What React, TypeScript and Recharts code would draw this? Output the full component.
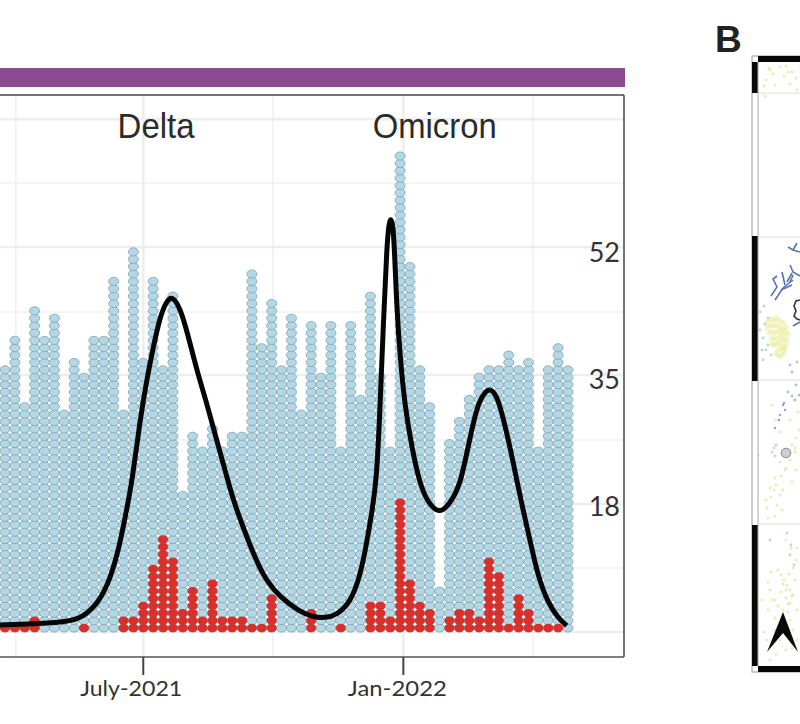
import React from "react";
import {
  ComposedChart,
  ScatterChart,
  Scatter,
  XAxis,
  YAxis,
  ReferenceLine,
  ReferenceDot,
} from "recharts";

// Weekly column heights (dots per week)
const totalCounts = [
  36, 40, 31, 44, 40, 43, 30, 37, 35, 40, 40, 48, 30, 52, 37, 48, 36, 46, 19, 27,
  25, 28, 25, 27, 27, 49, 39, 45, 36, 43, 30, 42, 35, 42, 25, 42, 32, 46, 35, 25,
  65, 50, 36, 31, 6, 26, 29, 32, 35, 36, 36, 38, 36, 37, 25, 36, 39, 36,
];
const redCounts = [
  1, 1, 1, 2, 0, 0, 0, 0, 1, 0, 0, 0, 2, 2, 4, 9, 13, 10, 3, 6,
  2, 7, 2, 2, 2, 1, 1, 5, 0, 0, 0, 3, 0, 0, 1, 0, 0, 4, 4, 2,
  18, 7, 4, 3, 0, 2, 3, 3, 2, 10, 8, 1, 5, 3, 1, 1, 1, 0,
];

// Black trend curve
const curveWeeks = [
  -0.51, 2.87, 6.25, 7.93, 9.45, 10.63, 11.57, 12.25, 12.89, 13.67, 14.35, 15.01,
  15.69, 16.37, 16.98, 17.72, 18.4, 19.41, 20.42, 21.43, 22.55, 23.11, 24.13, 25.48, 26.5,
  27.84, 29.87, 31.21, 32.4, 33.58, 34.93, 35.94, 36.62, 37.13, 37.63, 37.97, 38.31, 38.67,
  38.88, 39.08, 39.26, 39.41, 39.66, 40, 40.5, 41.18, 42.02, 42.83, 44.04, 45.05, 46.07, 47.08, 47.89,
  48.6, 49.1, 49.78, 50.42, 51.13, 51.81, 52.45, 53.15, 53.97, 54.98, 55.99, 56.87,
];
const curveValues = [
  1.41, 1.54, 1.81, 2.49, 4.39, 7.51, 11.98, 16.59, 21.07, 29.2, 34.63, 39.1,
  43.17, 45.4, 46, 44.39, 41.41, 35.98, 31.51, 26.49, 21.07, 18.36, 14.56, 9.95, 7.37,
  5.2, 3.17, 2.49, 2.36, 2.76, 4.39, 7.92, 12.53, 16.59, 21.07, 30.97, 42.36, 53.1,
  55.9, 56.6, 55.7, 53.1, 44.53, 37.75, 30.97, 25.54, 20.39, 17.95, 16.4, 17.95, 20.12, 26.9, 31.51,
  33, 33.5, 32.59, 29.61, 25.54, 21.07, 17, 12.93, 7.92, 4.39, 2.36, 1.31,
];

const yTicks = [18, 35, 52];
const yTickShift = [3, 2, 0];
const xTickWeeks = [14, 40.33];
const xTickLabels = ["July-2021", "Jan-2022"];
const xTickLabelShift = [-12, -6];
const gridMajorY = [70, 52.66, 35.31, 17.81, 0.46];
const gridMinorY = [61.34, 43.85, 26.49, 9.14];
const gridMajorX = [14, 40.33];
const gridMinorX = [1.1, 27.13, 53.46];
const variantLabels = ["Delta", "Omicron"];
const variantWeeks = [15.3, 43.5];

const X_DOMAIN: [number, number] = [-0.506, 62.67];
const Y_DOMAIN: [number, number] = [-2.93, 73.27];

const blueDots = totalCounts.flatMap((n, week) =>
  Array.from({ length: n }, (_, i) => ({ week, row: i + 1 }))
);
const redDots = redCounts.flatMap((n, week) =>
  Array.from({ length: n }, (_, i) => ({ week, row: i + 1 }))
);
const curve = curveWeeks.map((week, i) => ({ week, row: curveValues[i] }));

// Map panel B: river lines and specks, in map coordinates
const riverA = [
  { lon: 775, lat: 300 }, { lon: 783, lat: 288 }, { lon: 793, lat: 280 },
];
const riverB = [
  { lon: 771, lat: 296 }, { lon: 777, lat: 287 }, { lon: 773, lat: 279 }, { lon: 777, lat: 276 },
];
const riverC = [{ lon: 788, lat: 247 }, { lon: 793, lat: 250 }, { lon: 800, lat: 252 }];
const riverC2 = [{ lon: 793, lat: 250 }, { lon: 797, lat: 243 }];
const riverD = [{ lon: 790, lat: 265 }, { lon: 793, lat: 272 }, { lon: 800, lat: 276 }];
const riverE = [{ lon: 785, lat: 285 }, { lon: 782, lat: 272 }];
const riverF = [{ lon: 781, lat: 290 }, { lon: 792, lat: 285 }];
const riverG = [{ lon: 787, lat: 282 }, { lon: 792, lat: 273 }];
const riverH = [{ lon: 790, lat: 282 }, { lon: 793, lat: 275 }];
const outline = [
  { lon: 800, lat: 300 }, { lon: 796, lat: 301 }, { lon: 794, lat: 306 }, { lon: 796, lat: 311 },
  { lon: 794, lat: 316 }, { lon: 797, lat: 319 }, { lon: 800, lat: 320 },
];
const outlineBlue = [{ lon: 793, lat: 326 }, { lon: 800, lat: 322 }];

const blobLon = [
  768, 771, 774, 777, 780, 783, 786, 767, 770, 773, 776, 779, 782, 785, 788, 769, 772, 775, 778,
  781, 784, 787, 771, 774, 777, 780, 783, 786, 774, 777, 780, 783, 778, 781, 784, 776, 779, 772, 782, 785,
];
const blobLat = [
  322, 319, 320, 318, 321, 323, 327, 328, 326, 326, 325, 327, 329, 331, 334, 333, 332, 333, 331,
  333, 336, 340, 339, 338, 339, 337, 340, 344, 345, 344, 343, 347, 350, 349, 352, 354, 356, 344, 355, 348,
];
const yellowLon = [
  770, 773, 766, 769, 764, 765, 792, 796, 786, 790, 784, 775, 780, 788, 797,
  772, 776, 780, 790, 794, 798, 785, 775, 770, 766, 788, 780, 796, 792, 782, 775, 768, 780, 792, 796, 799, 795,
  771, 776, 781, 786, 767, 774, 790, 795, 777, 783,
  786, 791, 796, 789, 795, 778, 783, 770, 775, 786, 792, 797, 775, 768, 788, 783, 793, 780,
  786, 776, 770, 792, 797, 781, 768, 783, 775, 767, 762, 790, 784, 787, 790, 793, 781, 786, 790, 778,
  772, 764, 797, 788, 771, 793,
];
const yellowLat = [
  70, 74, 80, 68, 86, 96, 72, 78, 66, 84, 76, 85, 67, 72, 90,
  405, 420, 432, 420, 400, 412, 470, 478, 488, 500, 452, 495, 470, 482, 510, 516, 518, 462, 445, 438, 430, 452,
  497, 485, 476, 468, 508, 490, 460, 448, 505, 490,
  540, 548, 560, 574, 580, 570, 584, 590, 600, 590, 596, 610, 618, 610, 604, 626, 630, 640,
  650, 654, 660, 648, 640, 575, 582, 610, 630, 640, 600, 620, 580, 585, 590, 595, 592, 598, 603, 606,
  600, 632, 548, 612, 572, 568,
];
const tealLon = [760, 763, 766, 765, 768, 763, 771, 772, 774, 775, 776, 770, 787, 791, 760, 764, 762, 768, 790, 794, 758];
const tealLat = [330, 338, 350, 324, 345, 360, 355, 452, 448, 456, 445, 540, 533, 545, 312, 306, 350, 318, 555, 565, 455];
const blueLon = [795, 792, 788, 796, 792, 790, 797, 799];
const blueLat = [400, 396, 392, 385, 372, 365, 362, 395];
const purpleLon = [783, 785, 780, 775, 779, 784];
const purpleLat = [405, 410, 415, 428, 420, 403];
const MAP_SITE = [{ lon: 786, lat: 453 }];

const blobSpecks = blobLon.map((lon, i) => ({ lon, lat: blobLat[i] }));
const yellowSpecks = yellowLon.map((lon, i) => ({ lon, lat: yellowLat[i] }));
const tealSpecks = tealLon.map((lon, i) => ({ lon, lat: tealLat[i] }));
const blueSpecks = blueLon.map((lon, i) => ({ lon, lat: blueLat[i] }));
const purpleSpecks = purpleLon.map((lon, i) => ({ lon, lat: purpleLat[i] }));

const BlueDot = (p: any) => (
  <ellipse cx={p.cx} cy={p.cy} rx={5} ry={4.1} fill="#b4d7e6" stroke="#7fa2ae" strokeWidth={0.8} />
);
const RedDot = (p: any) => (
  <ellipse cx={p.cx} cy={p.cy} rx={5} ry={4.2} fill="#d8302b" stroke="none" />
);
const NoDot = () => null;

const XTick = (p: any) => {
  const i = xTickWeeks.indexOf(p.payload.value);
  return (
    <text
      x={p.x + xTickLabelShift[i]}
      y={696}
      textAnchor="middle"
      fontFamily="Lato, sans-serif"
      fontSize={22}
      fill="#333"
      textLength={i === 0 ? 102 : 99}
      lengthAdjust="spacingAndGlyphs"
    >
      {xTickLabels[i]}
    </text>
  );
};

const YTick = (p: any) => (
  <text
    x={620}
    y={p.y + 10 + yTickShift[yTicks.indexOf(p.payload.value)]}
    textAnchor="end"
    fontFamily="Lato, sans-serif"
    fontSize={27}
    fill="#333"
  >
    {p.payload.value}
  </text>
);

const VariantLabel = (p: any) => (
  <text
    x={p.viewBox.x}
    y={p.viewBox.y}
    textAnchor="middle"
    fontFamily="'Liberation Sans', Arial, sans-serif"
    fontSize={35}
    fill="#2b2b2b"
    textLength={p.len}
    lengthAdjust="spacingAndGlyphs"
  >
    {p.value}
  </text>
);

const Speck = (color: string, r: number, o: number) => (p: any) =>
  <circle cx={p.cx} cy={p.cy} r={r} fill={color} fillOpacity={o} />;

const Frame = () => (
  <svg style={{ position: "absolute", left: 0, top: 0 }} width={800} height={724}>
    <rect x={752} y={56} width={60} height={616} fill="none" stroke="#999" strokeWidth={1} />
    <rect x={752} y={62} width={6} height={31} fill="#080808" />
    <rect x={752} y={236} width={6} height={145} fill="#080808" />
    <rect x={752} y={525} width={6} height={141} fill="#080808" />
    <rect x={758} y={56} width={42} height={6} fill="#080808" />
    <rect x={758} y={666} width={42} height={6} fill="#080808" />
    <line x1={758} x2={758} y1={62} y2={666} stroke="#aaa" strokeWidth={1} />
    <path d="M783 612 L767 652 L783 633 L798 652 Z" fill="#0a0a0a" />
    <text x={715} y={52} fontFamily="'Liberation Sans', Arial, sans-serif" fontWeight={700} fontSize={37} fill="#222">
      B
    </text>
  </svg>
);

export default function App() {
  return (
    <div style={{ position: "absolute", left: 0, top: 0, width: 800, height: 724, background: "#fff", overflow: "hidden" }}>
      <div style={{ position: "absolute", left: 0, top: 68, width: 625, height: 19, background: "#8c4a90" }} />
      <ComposedChart
        width={800}
        height={724}
        margin={{ top: 95, right: 176, bottom: 0, left: 0 }}
        style={{ position: "absolute", left: 0, top: 0 }}
      >
        <XAxis
          type="number"
          dataKey="week"
          domain={X_DOMAIN}
          allowDataOverflow
          ticks={xTickWeeks}
          height={67}
          interval={0}
          tick={<XTick />}
          tickSize={18}
          tickLine={{ stroke: "#444", strokeWidth: 2 }}
          axisLine={{ stroke: "#555", strokeWidth: 1.5 }}
        />
        <YAxis
          type="number"
          dataKey="row"
          domain={Y_DOMAIN}
          allowDataOverflow
          orientation="right"
          mirror
          ticks={yTicks}
          interval={0}
          tickLine={false}
          axisLine={false}
          tick={<YTick />}
        />
        {gridMinorY.map((y) => (
          <ReferenceLine key={y} y={y} stroke="#f0f0f0" strokeWidth={1.5} />
        ))}
        {gridMajorY.map((y) => (
          <ReferenceLine key={y} y={y} stroke="#eeeeee" strokeWidth={2.6} />
        ))}
        {gridMinorX.map((x) => (
          <ReferenceLine key={x} x={x} stroke="#f0f0f0" strokeWidth={1.5} />
        ))}
        {gridMajorX.map((x) => (
          <ReferenceLine key={x} x={x} stroke="#eeeeee" strokeWidth={2.6} />
        ))}
        <ReferenceLine y={Y_DOMAIN[1]} stroke="#444" strokeWidth={1.5} />
        <ReferenceLine x={X_DOMAIN[1]} stroke="#444" strokeWidth={1.5} />
        <Scatter data={blueDots} dataKey="row" shape={<BlueDot />} isAnimationActive={false} />
        <Scatter data={redDots} dataKey="row" shape={<RedDot />} isAnimationActive={false} />
        <Scatter
          data={curve}
          dataKey="row"
          shape={<NoDot />}
          line={{ stroke: "#050505", strokeWidth: 5 }}
          lineType="joint"
          lineJointType="basis"
          isAnimationActive={false}
        />
        <ReferenceDot
          x={variantWeeks[0]}
          y={67.5}
          r={0}
          stroke="none"
          fill="none"
          label={<VariantLabel value={variantLabels[0]} len={77} />}
        />
        <ReferenceDot
          x={variantWeeks[1]}
          y={67.5}
          r={0}
          stroke="none"
          fill="none"
          label={<VariantLabel value={variantLabels[1]} len={124} />}
        />
      </ComposedChart>

      <ScatterChart
        width={42}
        height={604}
        margin={{ top: 0, right: 0, bottom: 0, left: 0 }}
        style={{ position: "absolute", left: 758, top: 62 }}
      >
        <XAxis type="number" dataKey="lon" domain={[758, 800]} hide allowDataOverflow />
        <YAxis type="number" dataKey="lat" domain={[666, 62]} hide allowDataOverflow />
        <ReferenceLine y={93} stroke="#ddd" />
        <ReferenceLine y={237} stroke="#ddd" />
        <ReferenceLine y={380} stroke="#ddd" />
        <ReferenceLine y={524} stroke="#ddd" />
        <Scatter data={blobSpecks} shape={Speck("#e8e98f", 2.7, 0.5)} isAnimationActive={false} />
        <Scatter data={yellowSpecks} shape={Speck("#dde59b", 1.5, 0.7)} isAnimationActive={false} />
        <Scatter data={tealSpecks} shape={Speck("#a8d3c0", 1.4, 0.8)} isAnimationActive={false} />
        <Scatter data={blueSpecks} shape={Speck("#9dbdd2", 1.4, 0.9)} isAnimationActive={false} />
        <Scatter data={purpleSpecks} shape={Speck("#a486c0", 1.2, 0.9)} isAnimationActive={false} />
        {[riverA, riverB, riverC, riverC2, riverD, riverE, riverF, riverG, riverH, outlineBlue].map((r, i) => (
          <Scatter key={i} data={r} line={{ stroke: "#5574b4", strokeWidth: 1.6 }} shape={<NoDot />} isAnimationActive={false} />
        ))}
        <Scatter data={outline} line={{ stroke: "#333", strokeWidth: 1.6 }} shape={<NoDot />} isAnimationActive={false} />
        <Scatter
          data={MAP_SITE}
          shape={(p: any) => <circle cx={p.cx} cy={p.cy} r={4.8} fill="#cfcfcf" stroke="#888" />}
          isAnimationActive={false}
        />
      </ScatterChart>
      <Frame />
    </div>
  );
}
